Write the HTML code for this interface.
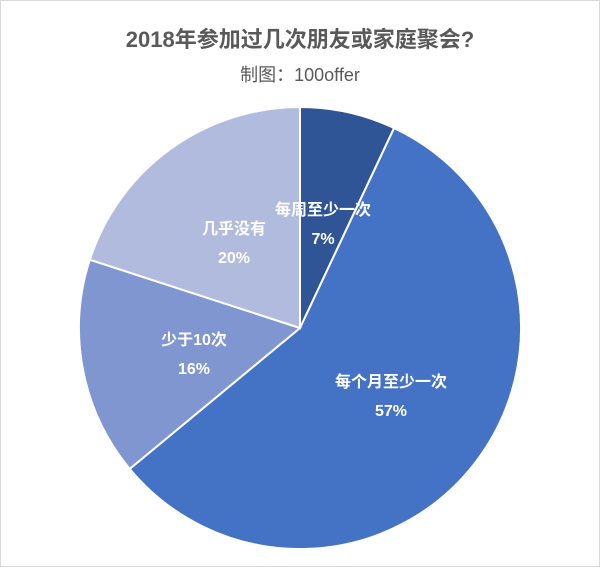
<!DOCTYPE html>
<html><head><meta charset="utf-8"><style>
body{margin:0;background:#fff;}
#wrap{position:relative;width:598px;height:565px;border:1px solid #d9d9d9;background:#fff;font-family:"Liberation Sans","Noto Sans CJK SC",sans-serif;}
.t{position:absolute;left:0;width:598px;text-align:center;color:#595959;white-space:nowrap;}
</style></head><body>
<div id="wrap">
<div class="t" style="top:21px;font-size:22px;font-weight:bold;">2018年参加过几次朋友或家庭聚会?</div>
<div class="t" style="top:60px;font-size:18px;">制图：100offer</div>
<svg id="pie" width="598" height="565" style="position:absolute;left:0;top:0"></svg>
</div>
<script>
const categories=["每周至少一次","每个月至少一次","少于10次","几乎没有"];
const values=[7,57,16,20];
const labels=["7%","57%","16%","20%"];
const colors=["#2F5597","#4472C4","#7F96D1","#B1BBDD"];
const labelPos=[[322,214],[390,386],[193,344],[233,233]];
const cx=299,cy=327,r=221;
const svg=document.getElementById('pie');
const NS="http://www.w3.org/2000/svg";
const total=values.reduce((a,b)=>a+b,0);
let a0=0;
values.forEach((v,i)=>{
  const a1=a0+v/total*2*Math.PI;
  const p=(a)=>[cx+r*Math.sin(a),cy-r*Math.cos(a)];
  const [x0,y0]=p(a0),[x1,y1]=p(a1);
  const path=document.createElementNS(NS,'path');
  path.setAttribute('d',`M${cx},${cy} L${x0},${y0} A${r},${r} 0 ${a1-a0>Math.PI?1:0} 1 ${x1},${y1} Z`);
  path.setAttribute('fill',colors[i]);
  path.setAttribute('stroke','#fff');
  path.setAttribute('stroke-width','2');
  
  
  svg.appendChild(path);
  a0=a1;
});
values.forEach((v,i)=>{
  const [lx,ly]=labelPos[i];
  const t=document.createElementNS(NS,'text');
  t.setAttribute('x',lx);t.setAttribute('y',ly);
  t.setAttribute('text-anchor','middle');
  t.setAttribute('fill','#fff');t.setAttribute('font-size','16');t.setAttribute('font-weight','bold');
  t.setAttribute('font-family','"Liberation Sans","Noto Sans CJK SC",sans-serif');
  
  
  const s1=document.createElementNS(NS,'tspan');s1.setAttribute('x',lx);s1.textContent=categories[i];
  const s2=document.createElementNS(NS,'tspan');s2.setAttribute('x',lx);s2.setAttribute('dy','29');s2.textContent=labels[i];
  t.appendChild(s1);t.appendChild(s2);
  svg.appendChild(t);
});
</script>
</body></html>
